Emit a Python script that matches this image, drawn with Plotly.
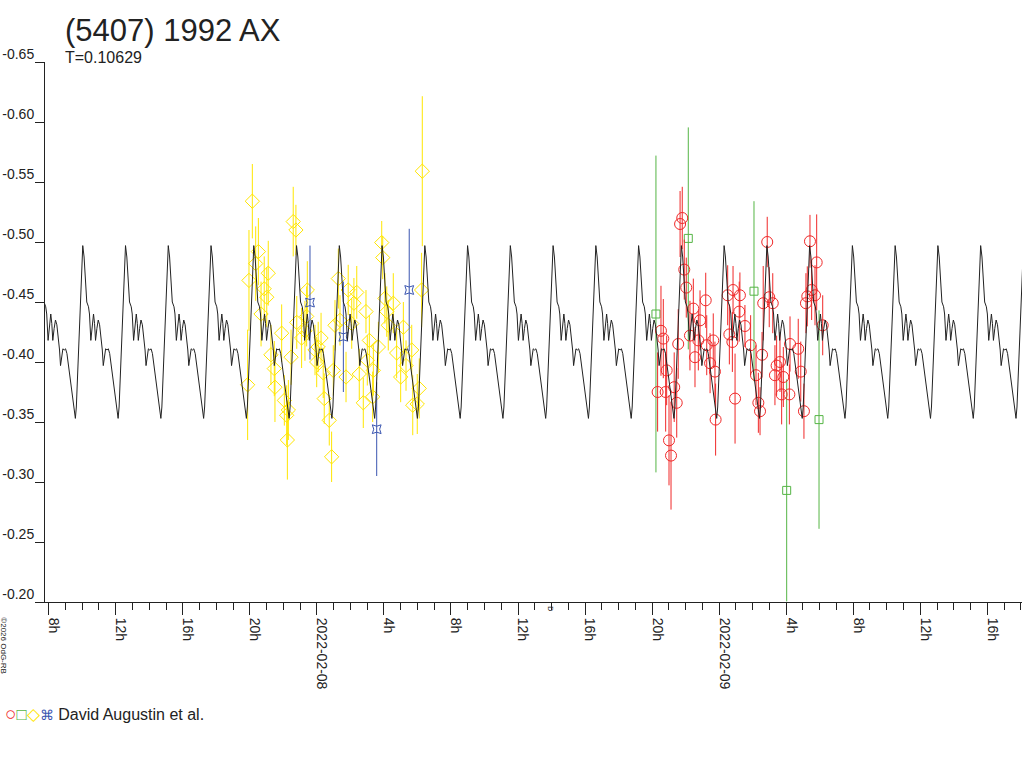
import pandas as pd
import plotly.graph_objects as go

# --- Data -------------------------------------------------------------------
# times are hours after 2022-02-07 00:00 UT, values are relative magnitudes
DAY0 = pd.Timestamp("2022-02-07 00:00")
PERIOD_D = 0.10629

YELLOW_H = [20.15, 22.59, 22.75, 20.51, 20.35, 19.95, 21.10, 20.86, 21.01, 20.67,
            21.90, 21.26, 22.46, 22.80, 23.43, 23.39, 23.29, 23.09, 23.89, 24.25,
            24.08, 23.99, 24.38, 21.46, 21.50, 19.87, 22.06, 22.30, 22.20, 22.24,
            24.44, 24.74, 24.88, 30.29, 27.87, 27.93, 30.25, 25.28, 25.87, 26.38,
            26.21, 26.93, 28.06, 28.56, 28.17, 28.26, 29.16, 25.38, 25.08, 26.08,
            27.13, 27.67, 28.76, 29.66, 27.01, 29.32, 26.53, 25.74, 24.98, 29.00,
            27.37, 26.77, 27.33, 30.11, 29.72, 29.99]
YELLOW_MAG = [-0.534, -0.517, -0.510, -0.492, -0.482, -0.468, -0.474, -0.461, -0.454, -0.440,
              -0.424, -0.406, -0.404, -0.433, -0.460, -0.438, -0.426, -0.420, -0.410, -0.420,
              -0.4125, -0.400, -0.391, -0.3945, -0.379, -0.381, -0.368, -0.360, -0.3556, -0.335,
              -0.3695, -0.3514, -0.321, -0.559, -0.4995, -0.487, -0.460, -0.4695, -0.460, -0.458,
              -0.449, -0.442, -0.453, -0.449, -0.442, -0.4306, -0.429, -0.4347, -0.4306, -0.432,
              -0.418, -0.4125, -0.4075, -0.410, -0.4014, -0.397, -0.390, -0.3875, -0.393, -0.3875,
              -0.393, -0.366, -0.371, -0.378, -0.364, -0.365]
YELLOW_ERR = [0.031, 0.029, 0.021, 0.028, 0.031, 0.042, 0.027, 0.027, 0.025, 0.027,
              0.024, 0.025, 0.023, 0.022, 0.024, 0.025, 0.025, 0.025, 0.021, 0.021,
              0.021, 0.021, 0.021, 0.023, 0.029, 0.046, 0.021, 0.025, 0.025, 0.033,
              0.021, 0.021, 0.021, 0.0625, 0.018, 0.018, 0.031, 0.025, 0.021, 0.022,
              0.021, 0.018, 0.021, 0.025, 0.021, 0.021, 0.021, 0.021, 0.021, 0.021,
              0.021, 0.021, 0.021, 0.021, 0.021, 0.021, 0.021, 0.021, 0.021, 0.021,
              0.021, 0.021, 0.021, 0.025, 0.025, 0.025]

BLUE_H = [23.59, 25.58, 27.57, 29.51]
BLUE_MAG = [-0.4495, -0.421, -0.344, -0.460]
BLUE_ERR = [0.0475, 0.046, 0.039, 0.051]

RED_H = [45.80, 45.67, 45.92, 46.04, 46.46, 47.20, 44.53, 44.67, 45.56, 46.26,
         46.86, 46.76, 47.65, 47.26, 46.56, 47.46, 47.75, 44.87, 44.33, 44.81,
         45.32, 45.47, 47.79, 45.01, 45.13, 48.51, 48.61, 48.79, 50.87, 53.42,
         53.82, 48.83, 49.24, 53.52, 53.72, 53.26, 53.18, 50.63, 51.20, 50.99,
         49.20, 49.54, 49.88, 50.56, 52.23, 52.72, 52.87, 54.18, 50.20, 51.43,
         51.63, 51.33, 51.83, 51.73, 52.19, 50.34, 50.44, 53.06, 48.95]
RED_MAG = [-0.520, -0.515, -0.477, -0.462, -0.4445, -0.4514, -0.426, -0.4195, -0.415, -0.422,
           -0.4347, -0.418, -0.418, -0.414, -0.404, -0.399, -0.392, -0.393, -0.375, -0.375,
           -0.379, -0.366, -0.352, -0.3347, -0.322, -0.4556, -0.423, -0.4167, -0.500, -0.5006,
           -0.483, -0.460, -0.4556, -0.460, -0.4556, -0.4547, -0.449, -0.449, -0.449, -0.454,
           -0.442, -0.430, -0.414, -0.406, -0.415, -0.411, -0.392, -0.4306, -0.389, -0.397,
           -0.400, -0.389, -0.3875, -0.373, -0.373, -0.366, -0.359, -0.359, -0.3695]
RED_ERR = [0.026, 0.0275, 0.025, 0.025, 0.025, 0.023, 0.0375, 0.033, 0.029, 0.029,
           0.025, 0.025, 0.0225, 0.025, 0.025, 0.025, 0.025, 0.029, 0.033, 0.033,
           0.029, 0.029, 0.030, 0.0375, 0.045, 0.025, 0.025, 0.025, 0.021, 0.022,
           0.040, 0.020, 0.019, 0.025, 0.025, 0.025, 0.025, 0.031, 0.025, 0.025,
           0.025, 0.0175, 0.025, 0.019, 0.023, 0.025, 0.025, 0.025, 0.025, 0.025,
           0.025, 0.025, 0.025, 0.025, 0.025, 0.025, 0.020, 0.023, 0.0375]

GREEN_H = [44.23, 46.16, 50.08, 52.03, 53.96]
GREEN_MAG = [-0.440, -0.503, -0.459, -0.293, -0.352]
GREEN_ERR = [0.132, 0.0925, 0.075, 0.0925, 0.091]

# one cycle of the fitted lightcurve, phase 0 = maximum
MODEL_PHASE = [0.000, 0.031, 0.063, 0.094, 0.134, 0.157, 0.189, 0.220, 0.252, 0.276,
               0.299, 0.331, 0.362, 0.394, 0.425, 0.457, 0.480, 0.504, 0.535, 0.567,
               0.598, 0.630, 0.677, 0.724, 0.787, 0.827, 0.850, 0.882, 0.921, 0.961]
MODEL_MAG = [-0.497, -0.4875, -0.468, -0.450, -0.446, -0.440, -0.418, -0.431, -0.440, -0.432,
             -0.418, -0.428, -0.435, -0.431, -0.421, -0.410, -0.397, -0.4055, -0.411, -0.410,
             -0.411, -0.407, -0.393, -0.379, -0.360, -0.353, -0.3625, -0.393, -0.4375, -0.4735]
MODEL_EPOCH_H = 55.95  # a maximum, 2022-02-09 07:57

TICK_H = [8, 12, 16, 20, 24, 28, 32, 36, 40, 44, 48, 52, 56, 60, 64]
TICK_TEXT = ["8h", "12h", "16h", "20h", "2022-02-08", "4h", "8h", "12h", "16h", "20h",
             "2022-02-09", "4h", "8h", "12h", "16h"]
MAG_TICKS = [-0.65, -0.60, -0.55, -0.50, -0.45, -0.40, -0.35, -0.30, -0.25, -0.20]
MAG_TEXT = ["-0.65", "-0.60", "-0.55", "-0.50", "-0.45", "-0.40", "-0.35", "-0.30", "-0.25", "-0.20"]

# --- Helpers ----------------------------------------------------------------
FONT = "Liberation Sans"
INK = "#222222"


def to_time(hours):
    return DAY0 + pd.to_timedelta(pd.Series(hours, dtype=float), unit="h")


def model_curve():
    """Repeat the single fitted cycle across the plotted window."""
    period_h = PERIOD_D * 24.0
    hrs, mags = [], []
    for k in range(-20, 5):
        for ph, m in zip(MODEL_PHASE, MODEL_MAG):
            hrs.append(MODEL_EPOCH_H + (k + ph) * period_h)
            mags.append(m)
    return to_time(hrs), mags


def obs_trace(hours, mags, errs, color, symbol, size):
    return go.Scatter(
        x=to_time(hours), y=mags, mode="markers", showlegend=False,
        marker=dict(symbol=symbol, size=size, color=color, line=dict(width=1, color=color)),
        error_y=dict(type="data", array=errs, width=0, thickness=1, color=color),
    )


# --- Figure -----------------------------------------------------------------
fig = go.Figure()
fig.add_trace(obs_trace(YELLOW_H, YELLOW_MAG, YELLOW_ERR, "#ffe600", "diamond-open", 11))
fig.add_trace(obs_trace(BLUE_H, BLUE_MAG, BLUE_ERR, "#3a55b0", "star-square-open", 8))
fig.add_trace(obs_trace(GREEN_H, GREEN_MAG, GREEN_ERR, "#55b545", "square-open", 8))
fig.add_trace(obs_trace(RED_H, RED_MAG, RED_ERR, "#f02828", "circle-open", 11))

mx, my = model_curve()
fig.add_trace(go.Scatter(x=mx, y=my, mode="lines", showlegend=False,
                         line=dict(color=INK, width=1)))

fig.update_layout(
    width=1024, height=768, autosize=False,
    margin=dict(l=45, r=2, t=62, b=166),
    paper_bgcolor="white", plot_bgcolor="white",
    font=dict(family=FONT, color=INK, size=14),
    title=dict(text="(5407) 1992 AX", x=65 / 1024, xanchor="left",
               y=1 - 30 / 768, yanchor="middle",
               font=dict(family=FONT, size=31, color=INK)),
)

fig.update_xaxes(
    range=[DAY0 + pd.Timedelta(hours=7.78), DAY0 + pd.Timedelta(hours=66.07)],
    tickmode="array", tickvals=to_time(TICK_H), ticktext=TICK_TEXT, tickangle=90,
    ticks="outside", ticklen=12, tickcolor=INK, tickwidth=1, automargin=False,
    showline=True, linecolor=INK, linewidth=1, showgrid=False, zeroline=False,
    tickfont=dict(family=FONT, size=14, color=INK), ticklabelshift=5,
    minor=dict(tickmode="linear", tick0=DAY0, dtick=3600000, ticks="outside",
               ticklen=7, tickcolor=INK, showgrid=False),
)
fig.update_yaxes(
    range=[-0.20, -0.65], tickmode="array", tickvals=MAG_TICKS, ticktext=MAG_TEXT,
    ticks="outside", ticklen=9, tickcolor=INK, tickwidth=1, automargin=False,
    showline=True, linecolor=INK, linewidth=1, showgrid=False, zeroline=False,
    tickfont=dict(family=FONT, size=14, color=INK),
    ticklabelshift=8, ticklabelstandoff=-2,
)

# period note under the title
fig.add_annotation(text="T=0.10629", xref="paper", yref="paper",
                   x=(63 - 45) / 977, y=(601.7 - 57) / 540, xanchor="left", yanchor="middle",
                   showarrow=False, font=dict(family=FONT, size=16, color=INK))

# observer key
fig.add_annotation(
    text=("<span style='color:#f02828;font-size:19px'>○</span>"
          "<span style='color:#55b545;font-size:17px'>□</span>"
          "<span style='color:#ffe600;font-size:17px'>◇</span>"
          "<span style='color:#3a55b0;font-size:14px'>⌘</span>"
          " David Augustin et al."),
    xref="paper", yref="paper", x=(3 - 45) / 977, y=(601.7 - 713) / 540,
    xanchor="left", yanchor="middle", showarrow=False,
    font=dict(family=FONT, size=16, color=INK))

# credit, written sideways at the lower left
fig.add_annotation(text="©2026 OdG-RB", xref="paper", yref="paper",
                   x=(4 - 45) / 977, y=(601.7 - 645) / 540, textangle=90,
                   xanchor="center", yanchor="middle",
                   showarrow=False, font=dict(family=FONT, size=8, color=INK))

# small moon-phase mark on the time axis
fig.add_annotation(text="D", xref="x", yref="paper",
                   x=DAY0 + pd.Timedelta(hours=37.97), y=(601.7 - 608) / 540, textangle=90,
                   xanchor="center", yanchor="middle",
                   showarrow=False, font=dict(family=FONT, size=7, color=INK))

# drop the browser's default page margin so the figure sits at (0, 0)
fig.write_html("out.html", config={"displayModeBar": False},
               post_script="document.body.style.margin='0';")
